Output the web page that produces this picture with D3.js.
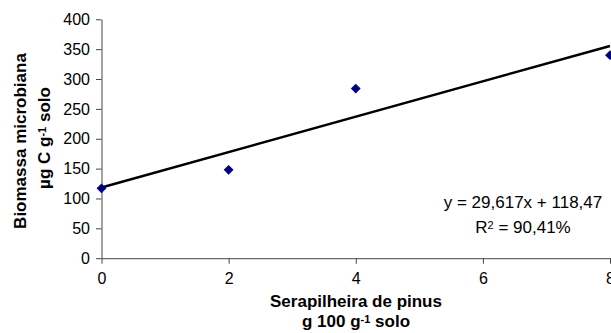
<!DOCTYPE html>
<html>
<head>
<meta charset="utf-8">
<script src="https://cdn.jsdelivr.net/npm/d3@7"></script>
<style>
  html, body { margin: 0; padding: 0; background: #fff; }
  svg { display: block; font-family: "Liberation Sans", Arial, sans-serif; }
</style>
</head>
<body>
<svg id="chart" width="611" height="333"></svg>
<script>
// Data
const xValues = [0, 2, 4, 8];
const biomassValues = [117, 148, 284, 340];
const xTicks = [0, 2, 4, 6, 8];
const yTicks = [0, 50, 100, 150, 200, 250, 300, 350, 400];
const trendSlope = 29.617;
const trendIntercept = 118.47;
const equationLine = "y = 29,617x + 118,47";

const svg = d3.select("#chart");
const x = d3.scaleLinear().domain([0, 8]).range([101.5, 610]);
const y = d3.scaleLinear().domain([0, 400]).range([258.2, 19.3]);

const axisColor = "#444";

// Y axis
const yAxis = svg.append("g").attr("transform", "translate(101.5,0)")
  .call(d3.axisLeft(y).tickValues(yTicks).tickSize(5.5).tickSizeOuter(0).tickPadding(6));
yAxis.select(".domain").attr("stroke", axisColor);
yAxis.selectAll(".tick line").attr("stroke", axisColor);
yAxis.selectAll(".tick text").attr("font-size", "16px").attr("fill", "#000")
  .attr("font-family", "Liberation Sans, Arial, sans-serif");

// X axis
const xAxis = svg.append("g").attr("transform", "translate(0,258.2)")
  .call(d3.axisBottom(x).tickValues(xTicks).tickSize(5.5).tickSizeOuter(0).tickPadding(9));
xAxis.select(".domain").attr("stroke", axisColor);
xAxis.selectAll(".tick line").attr("stroke", axisColor);
xAxis.selectAll(".tick text").attr("font-size", "16px").attr("fill", "#000")
  .attr("font-family", "Liberation Sans, Arial, sans-serif");

// Trend line
const trend = [0, 8].map(v => [v, trendIntercept + trendSlope * v]);
svg.append("path")
  .attr("d", d3.line().x(d => x(d[0])).y(d => y(d[1]))(trend))
  .attr("stroke", "#000").attr("stroke-width", 2.5).attr("fill", "none");

// Points (diamonds)
const diamond = d3.symbol().type(d3.symbolSquare).size(48);
svg.append("g").selectAll("path")
  .data(xValues.map((v, i) => [v, biomassValues[i]]))
  .join("path")
  .attr("d", diamond)
  .attr("transform", d => `translate(${x(d[0])},${y(d[1])}) rotate(45)`)
  .attr("fill", "#000080");

// helper: text with superscript, centered manually
function supText(parent, parts, size, weight) {
  const t = parent.append("text").attr("font-size", size + "px")
    .attr("font-weight", weight).attr("text-anchor", "start");
  parts.forEach(p => {
    const s = t.append("tspan").text(p.t);
    if (p.sup) s.attr("font-size", Math.round(size * 0.65) + "px").attr("baseline-shift", "35%");
  });
  const w = t.node().getComputedTextLength();
  t.attr("x", -w / 2).attr("y", 0);
  return t;
}

// Equation
svg.append("text").attr("x", 523).attr("y", 208).attr("font-size", "17px")
  .attr("text-anchor", "middle").text(equationLine);
const r2g = svg.append("g").attr("transform", "translate(523,233)");
supText(r2g, [{t: "R"}, {t: "2", sup: true}, {t: " = 90,41%"}], 17, "normal");

// X title
svg.append("text").attr("x", 356).attr("y", 306.5).attr("font-size", "17px")
  .attr("font-weight", "bold").attr("text-anchor", "middle").text("Serapilheira de pinus");
const xt2 = svg.append("g").attr("transform", "translate(356,326.5)");
supText(xt2, [{t: "g 100 g"}, {t: "-1", sup: true}, {t: " solo"}], 17, "bold");

// Y title
svg.append("text").attr("transform", "translate(25.5,141) rotate(-90)")
  .attr("font-size", "17px").attr("font-weight", "bold").attr("text-anchor", "middle")
  .text("Biomassa microbiana");
const yt2 = svg.append("g").attr("transform", "translate(49.5,138) rotate(-90)");
supText(yt2, [{t: "µg C g"}, {t: "-1", sup: true}, {t: " solo"}], 17, "bold");
</script>
</body>
</html>
